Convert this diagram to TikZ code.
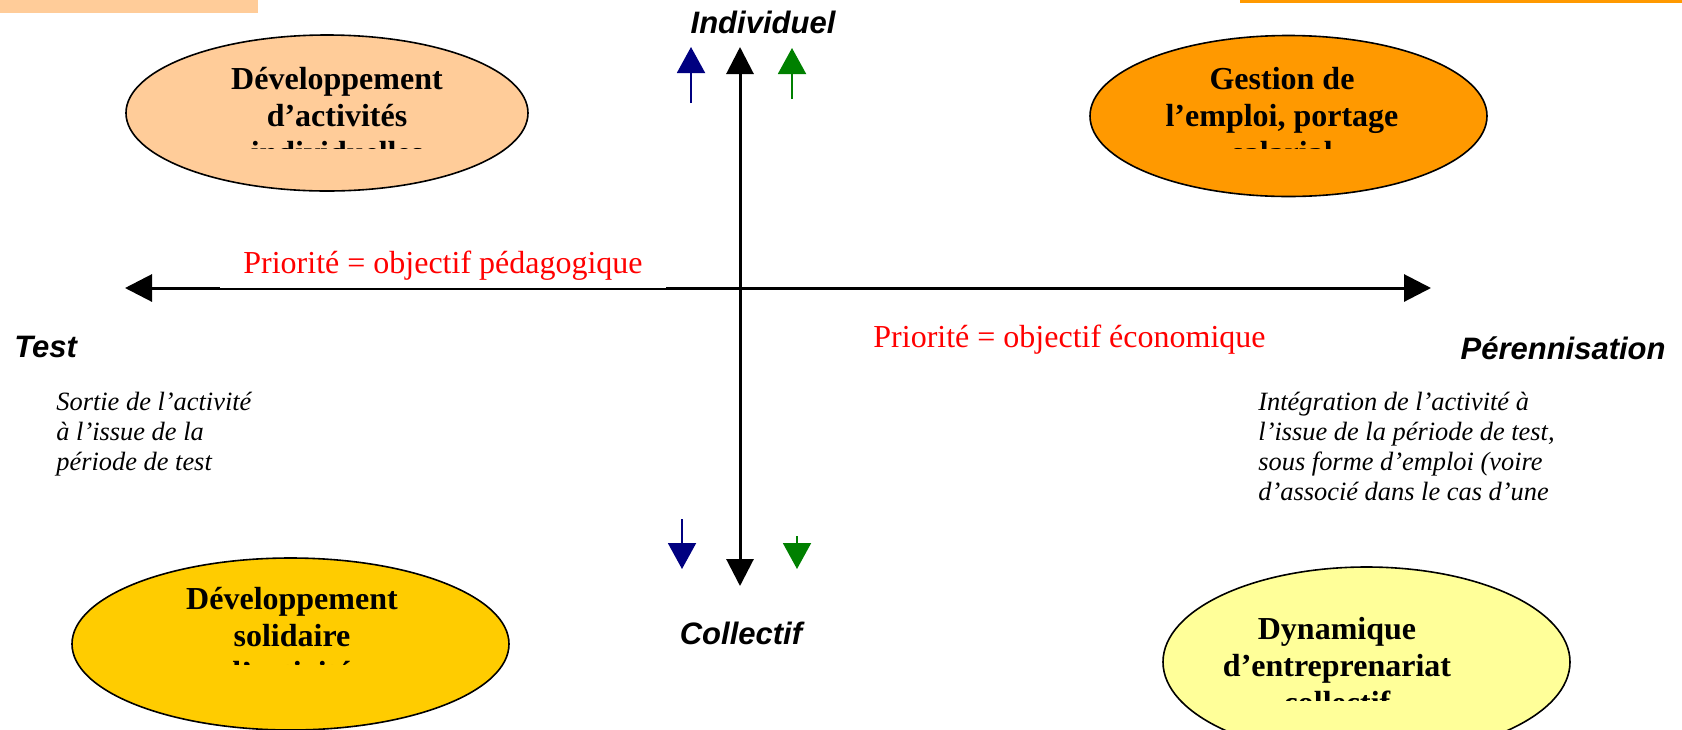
\documentclass[tikz,border=0pt]{standalone}
\usepackage{fontspec}
\setmainfont{Liberation Serif}
\setsansfont{Liberation Sans}
\usetikzlibrary{shapes.geometric, arrows.meta, positioning, calc}

\definecolor{peach}{HTML}{FFCC99}
\definecolor{orangefill}{HTML}{FF9900}
\definecolor{goldfill}{HTML}{FFCC00}
\definecolor{paleyellow}{HTML}{FFFF99}
\definecolor{navyarrow}{HTML}{000080}
\definecolor{greenarrow}{HTML}{008000}

\begin{document}
\begin{tikzpicture}[x=0.5pt, y=-0.5pt]
    \tikzstyle{bubble} = [ellipse, draw, line width=0.8pt, inner sep=0pt]
    \tikzstyle{bubtext} = [align=center, inner sep=0pt, font=\fontsize{16}{18.5}\selectfont\bfseries]
    \tikzstyle{pole} = [inner sep=0pt, font=\fontsize{15.5}{18}\selectfont\sffamily\bfseries\itshape]
    \tikzstyle{note} = [align=left, anchor=north west, inner sep=0pt, font=\fontsize{13.2}{15}\selectfont\itshape]
    \tikzstyle{prio} = [text=red, font=\fontsize{16}{18}\selectfont]
    \tikzstyle{axis} = [line width=1.5pt, {Triangle[length=13.5pt,width=13.5pt]}-{Triangle[length=13.5pt,width=13.5pt]}]
    \tikzstyle{trend} = [line width=1pt, -{Triangle[length=13pt,width=14pt]}]

    \useasboundingbox (0,0) rectangle (1682,729);

    % bandeaux du haut
    \fill[peach] (0,0) rectangle (258,13);
    \fill[orangefill] (1240,0) rectangle (1682,2.5);

    % les quatre bulles
    \node[bubble, fill=peach, minimum width=201pt, minimum height=78pt] (indiv) at (327,113) {};
    \node[bubble, fill=orangefill, minimum width=198.5pt, minimum height=80.5pt] (emploi) at (1288.5,116) {};
    \node[bubble, fill=goldfill, minimum width=218.5pt, minimum height=86pt] (solid) at (290.5,644) {};
    \node[bubble, fill=paleyellow, minimum width=203.5pt, minimum height=95pt] (entrep) at (1366.5,662) {};

    % textes des bulles (derniere ligne coupee)
    \begin{scope}
        \clip (120,40) rectangle (540,148);
        \node[bubtext] (indivtxt) at (337,116) {Développement\\d’activités\\individuelles};
    \end{scope}
    \begin{scope}
        \clip (1090,40) rectangle (1490,148);
        \node[bubtext] (emploitxt) at (1282,116) {Gestion de\\l’emploi, portage\\salarial};
    \end{scope}
    \begin{scope}
        \clip (70,560) rectangle (510,664);
        \node[bubtext] (solidtxt) at (292,636) {Développement\\solidaire\\l’activité};
    \end{scope}
    \begin{scope}
        \clip (1160,570) rectangle (1575,700);
        \node[bubtext] (entreptxt) at (1337,666) {Dynamique\\d’entreprenariat\\collectif};
    \end{scope}

    % axes
    \coordinate (ouest) at (125,288);
    \coordinate (est) at (1431,288);
    \coordinate (haut) at (740,47);
    \coordinate (bas) at (740,586);
    \draw[axis] (ouest) -- (est);
    \draw[axis] (bas) -- (haut);

    % fleches de couleur
    \coordinate (bleuA) at (691,103);
    \coordinate (bleuB) at (691,47);
    \coordinate (vertA) at (792,99);
    \coordinate (vertB) at (792,48);
    \coordinate (bleuC) at (682,519);
    \coordinate (bleuD) at (682,569);
    \coordinate (vertC) at (797,536);
    \coordinate (vertD) at (797,569);
    \draw[trend, navyarrow] (bleuA) -- (bleuB);
    \draw[trend, greenarrow] (vertA) -- (vertB);
    \draw[trend, navyarrow] (bleuC) -- (bleuD);
    \draw[trend, greenarrow] (vertC) -- (vertD);

    % poles
    \node[pole] (individuel) at (763,22) {Individuel};
    \node[pole] (collectif) at (741,633) {Collectif};
    \node[pole, anchor=west] (test) at (14,347) {Test};
    \node[pole, anchor=east] (perenn) at (1666,348) {Pérennisation};

    % priorites
    \node[prio, fill=white, anchor=south, minimum width=223pt, inner ysep=4pt] (pedago) at (443,288.5) {Priorité = objectif pédagogique};
    \node[prio, anchor=base] (econo) at (1069.5,347) {Priorité = objectif économique};

    % commentaires
    \node[note] (sortie) at (56,392) {Sortie de l’activité\\à l’issue de la\\période de test};
    \node[note] (integ) at (1258,392) {Intégration de l’activité à\\l’issue de la période de test,\\sous forme d’emploi (voire\\d’associé dans le cas d’une};
\end{tikzpicture}
\end{document}
